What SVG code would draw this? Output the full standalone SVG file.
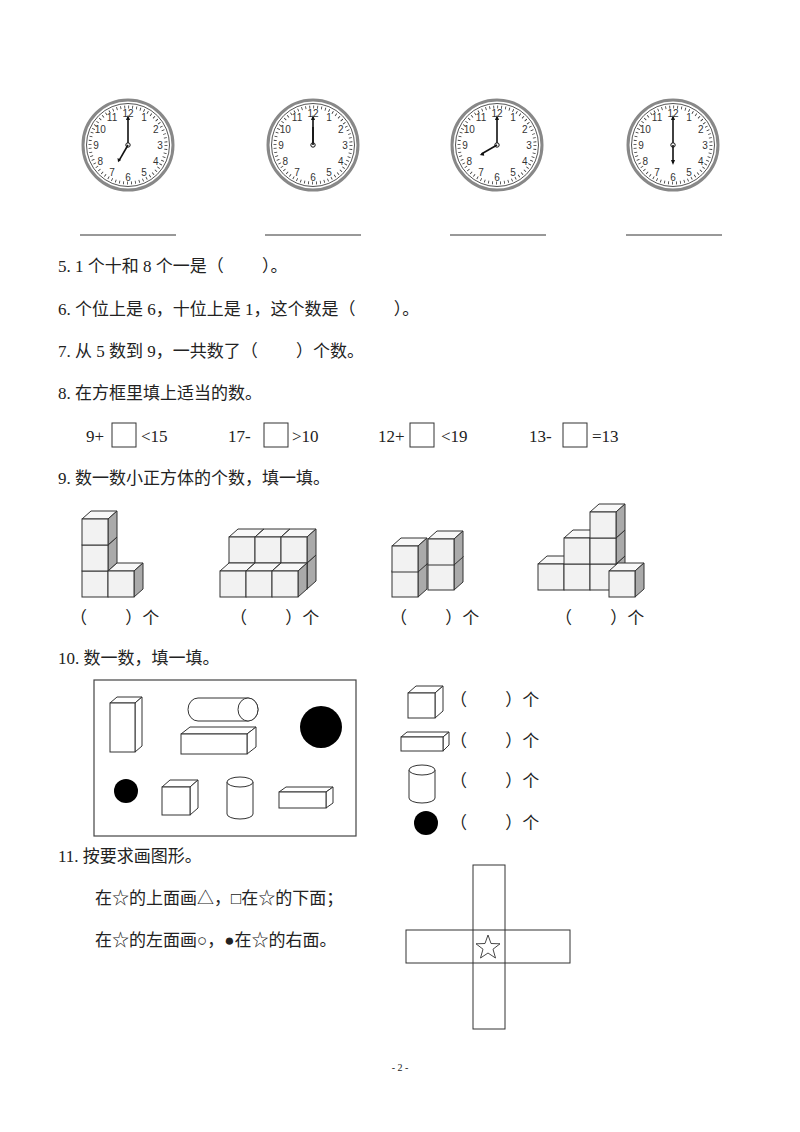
<svg xmlns="http://www.w3.org/2000/svg" width="800" height="1132" viewBox="0 0 800 1132">
<style>
text{font-family:"Liberation Serif","Noto Sans CJK SC",serif;font-size:17px;fill:#222}
.n{font-family:"Liberation Sans",sans-serif;font-size:10px;text-anchor:middle;dominant-baseline:central;fill:#333}
.ln{stroke:#333;stroke-width:1;fill:none}
.fr{fill:#f2f2f2;stroke:#333;stroke-width:1}
.tp{fill:#f8f8f8;stroke:#333;stroke-width:1}
.sd{fill:#aaa;stroke:#333;stroke-width:1}
.w{fill:#fff;stroke:#333;stroke-width:1}
.hand{stroke:#111;stroke-width:1.6}
</style>
<defs>
<g id="face">
<circle r="45" fill="#fff" stroke="#888" stroke-width="3"/>
<circle r="41.5" fill="none" stroke="#555" stroke-width="1"/>
<circle r="38" fill="none" stroke="#333" stroke-width="3" stroke-dasharray="0.8 3.18"/>
<text class="n" x="16" y="-27.7">1</text><text class="n" x="27.7" y="-16">2</text><text class="n" x="32" y="0">3</text>
<text class="n" x="27.7" y="16">4</text><text class="n" x="16" y="27.7">5</text><text class="n" x="0" y="32">6</text>
<text class="n" x="-16" y="27.7">7</text><text class="n" x="-27.7" y="16">8</text><text class="n" x="-32" y="0">9</text>
<text class="n" x="-27.7" y="-16">10</text><text class="n" x="-16" y="-27.7">11</text><text class="n" x="0" y="-32">12</text>
<line class="hand" x1="0" y1="0" x2="0" y2="-27"/>
<polygon points="0,-30 -2,-25 2,-25" fill="#111"/>
<circle r="2.2" fill="#fff" stroke="#111" stroke-width="1"/>
</g>
<g id="cube">
<polygon class="tp" points="0,0 26,0 35,-8 9,-8"/>
<polygon class="sd" points="26,0 35,-8 35,18 26,26"/>
<rect class="fr" x="0" y="0" width="26" height="26"/>
</g>
</defs>

<g id="clocks">
<g id="clock1" transform="translate(128,145)"><use href="#face"/><line class="hand" x1="0" y1="0" x2="-9" y2="15.6"/><polygon points="-10,17.3 -10.5,13 -7,15" fill="#111"/></g>
<g id="clock2" transform="translate(313,145)"><use href="#face"/><line class="hand" x1="0" y1="0" x2="0" y2="-18"/></g>
<g id="clock3" transform="translate(497,145)"><use href="#face"/><line class="hand" x1="0" y1="0" x2="-15.6" y2="9"/><polygon points="-17.3,10 -13.5,7 -12.8,10.8" fill="#111"/></g>
<g id="clock4" transform="translate(673,145)"><use href="#face"/><line class="hand" x1="0" y1="0" x2="0" y2="18"/><polygon points="0,20 -2,15 2,15" fill="#111"/></g>
<line class="ln" x1="80" y1="235" x2="176" y2="235"/>
<line class="ln" x1="265" y1="235" x2="361" y2="235"/>
<line class="ln" x1="450" y1="235" x2="546" y2="235"/>
<line class="ln" x1="626" y1="235" x2="722" y2="235"/>
</g>

<text x="58" y="272">5. 1 个十和 8 个一是（　　 ）。</text>
<text x="58" y="315">6. 个位上是 6，十位上是 1，这个数是（　　 ）。</text>
<text x="58" y="357">7. 从 5 数到 9，一共数了（　　 ）个数。</text>
<text x="58" y="399">8. 在方框里填上适当的数。</text>
<g id="q8">
<text x="86" y="442">9+</text><rect class="w" x="112" y="423" width="24" height="24"/><text x="141" y="442">&lt;15</text>
<text x="228" y="442">17-</text><rect class="w" x="264" y="423" width="24" height="24"/><text x="292" y="442">&gt;10</text>
<text x="378" y="442">12+</text><rect class="w" x="410" y="423" width="24" height="24"/><text x="441" y="442">&lt;19</text>
<text x="529" y="442">13-</text><rect class="w" x="563" y="423" width="24" height="24"/><text x="592" y="442">=13</text>
</g>
<text x="58" y="484">9. 数一数小正方体的个数，填一填。</text>

<g id="cubes1">
<use href="#cube" x="82" y="571"/><use href="#cube" x="82" y="545"/><use href="#cube" x="82" y="519"/>
<use href="#cube" x="108" y="571"/>
</g>
<g id="cubes2">
<use href="#cube" x="229" y="563"/><use href="#cube" x="255" y="563"/><use href="#cube" x="281" y="563"/>
<use href="#cube" x="229" y="537"/><use href="#cube" x="255" y="537"/><use href="#cube" x="281" y="537"/>
<use href="#cube" x="220" y="571"/><use href="#cube" x="246" y="571"/><use href="#cube" x="272" y="571"/>
</g>
<g id="cubes3">
<use href="#cube" x="428" y="564"/><use href="#cube" x="428" y="539"/>
<use href="#cube" x="392" y="571"/><use href="#cube" x="392" y="546"/>
</g>
<g id="cubes4">
<use href="#cube" x="538" y="564"/><use href="#cube" x="564" y="564"/><use href="#cube" x="590" y="564"/>
<use href="#cube" x="564" y="538"/><use href="#cube" x="590" y="538"/>
<use href="#cube" x="590" y="512"/>
<use href="#cube" x="609" y="571"/>
</g>
<text x="70" y="624">（　　 ）个</text>
<text x="230" y="624">（　　 ）个</text>
<text x="390" y="624">（　　 ）个</text>
<text x="555" y="624">（　　 ）个</text>

<text x="58" y="664">10. 数一数，填一填。</text>
<g id="box10">
<rect x="94" y="680" width="262" height="156" fill="none" stroke="#444" stroke-width="1.2"/>
<polygon class="w" points="110,703 135,703 142,697 117,697"/><polygon class="w" points="135,703 142,697 142,746 135,752"/><rect class="w" x="110" y="703" width="25" height="49"/>
<path class="w" d="M198,698 H248 A10,11.5 0 0 1 248,721 H198 A10,11.5 0 0 1 198,698 Z"/><ellipse class="w" cx="248" cy="709.5" rx="10" ry="11.5"/>
<polygon class="w" points="181,734 247,734 256,727 190,727"/><polygon class="w" points="247,734 256,727 256,747 247,754"/><rect class="w" x="181" y="734" width="66" height="20"/>
<circle cx="321" cy="727" r="21" fill="#000"/>
<circle cx="126" cy="791" r="12" fill="#000"/>
<polygon class="w" points="162,787 190,787 198,780 170,780"/><polygon class="w" points="190,787 198,780 198,808 190,815"/><rect class="w" x="162" y="787" width="28" height="28"/>
<path class="w" d="M227,782 V814 A13,5 0 0 0 253,814 V782"/><ellipse class="w" cx="240" cy="782" rx="13" ry="5"/>
<polygon class="w" points="279,792 326,792 333,787 286,787"/><polygon class="w" points="326,792 333,787 333,803 326,808"/><rect class="w" x="279" y="792" width="47" height="16"/>
</g>
<g id="legend10">
<polygon class="w" points="408,693 435,693 443,686 416,686"/><polygon class="w" points="435,693 443,686 443,711 435,718"/><rect class="w" x="408" y="693" width="27" height="25"/>
<polygon class="w" points="401,737 443,737 449,732 407,732"/><polygon class="w" points="443,737 449,732 449,745 443,751"/><rect class="w" x="401" y="737" width="42" height="14"/>
<path class="w" d="M409,770 V798 A13,5 0 0 0 435,798 V770"/><ellipse class="w" cx="422" cy="770" rx="13" ry="5"/>
<circle cx="426" cy="823" r="12" fill="#000"/>
<text x="450" y="706">（　　 ）个</text>
<text x="450" y="747">（　　 ）个</text>
<text x="450" y="787">（　　 ）个</text>
<text x="450" y="829">（　　 ）个</text>
</g>

<text x="58" y="862">11. 按要求画图形。</text>
<text x="95" y="904">在☆的上面画△，□在☆的下面；</text>
<text x="95" y="946">在☆的左面画○，●在☆的右面。</text>
<g id="cross">
<rect x="406" y="930" width="164" height="33" fill="none" stroke="#333" stroke-width="1"/>
<rect x="473" y="865" width="32" height="164" fill="none" stroke="#333" stroke-width="1"/>
<polygon points="488,935 491,943.5 500,943.8 493,949.2 495.5,958 488,953 480.5,958 483,949.2 476,943.8 485,943.5" fill="none" stroke="#333" stroke-width="0.9"/>
</g>
<text x="400" y="1071" style="font-size:10px" text-anchor="middle">- 2 -</text>
</svg>
